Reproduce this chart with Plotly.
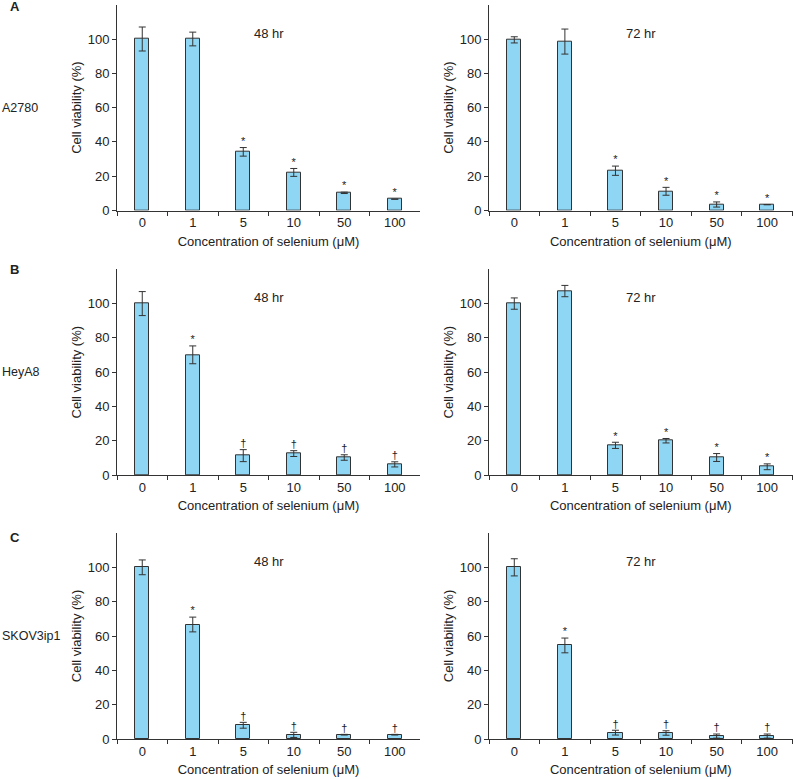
import plotly.graph_objects as go

categories = ["0", "1", "5", "10", "50", "100"]

a2780_48_vals = [100, 100, 34.2, 22.2, 10.3, 6.6]
a2780_48_err = [7.0, 4.0, 2.5, 2.3, 0.4, 0.0]
a2780_48_sig = ["", "", "*", "*", "*", "*"]

a2780_72_vals = [99.5, 98.5, 23.2, 11.2, 3.5, 3.4]
a2780_72_err = [1.8, 7.3, 2.7, 2.3, 1.5, 0.0]
a2780_72_sig = ["", "", "*", "*", "*", "*"]

heya8_48_vals = [100, 70.1, 11.3, 12.5, 10.2, 6.2]
heya8_48_err = [7.0, 5.2, 3.5, 1.7, 1.6, 1.5]
heya8_48_sig = ["", "*", "†", "†", "†", "†"]

heya8_72_vals = [100, 107.3, 17.3, 20.0, 10.2, 4.8]
heya8_72_err = [3.3, 3.3, 1.8, 1.3, 2.3, 1.7]
heya8_72_sig = ["", "", "*", "*", "*", "*"]

skov_48_vals = [100, 66.7, 8.0, 2.4, 2.5, 2.5]
skov_48_err = [4.3, 4.3, 1.7, 1.5, 0.2, 0.2]
skov_48_sig = ["", "*", "†", "†", "†", "†"]

skov_72_vals = [100, 54.5, 3.7, 3.5, 1.7, 1.7]
skov_72_err = [5.0, 4.3, 1.4, 1.3, 1.2, 1.2]
skov_72_sig = ["", "*", "†", "†", "†", "†"]

panel_titles = ["48 hr", "72 hr"]
row_letters = ["A", "B", "C"]
cell_lines = ["A2780", "HeyA8", "SKOV3ip1"]
x_title = "Concentration of selenium (μM)"
y_title = "Cell viability (%)"

panels = [
    (a2780_48_vals, a2780_48_err, a2780_48_sig),
    (a2780_72_vals, a2780_72_err, a2780_72_sig),
    (heya8_48_vals, heya8_48_err, heya8_48_sig),
    (heya8_72_vals, heya8_72_err, heya8_72_sig),
    (skov_48_vals, skov_48_err, skov_48_sig),
    (skov_72_vals, skov_72_err, skov_72_sig),
]

W, H = 793, 779
FONT = "Liberation Sans, Arial, sans-serif"
BAR = "#8fd6f4"
LINE = "#333333"
TXT = "#222222"

# pixel geometry
x_dom_px = [(117, 420), (489, 792.5)]
y_dom_px = [(4.7, 210.5), (269.3, 475), (533, 739)]

fig = go.Figure()
layout = {}
annotations = []

for i, (vals, errs, sig) in enumerate(panels):
    r, c = divmod(i, 2)
    n = i + 1
    xa = "x" if n == 1 else f"x{n}"
    ya = "y" if n == 1 else f"y{n}"
    fig.add_trace(go.Bar(
        x=categories, y=vals, xaxis=xa, yaxis=ya, width=0.28,
        marker=dict(color=BAR, line=dict(color=LINE, width=1)),
        error_y=dict(type="data", array=errs, visible=True, color=LINE, thickness=1, width=3.5),
        showlegend=False, hoverinfo="skip",
    ))
    tops = [v + e for v, e in zip(vals, errs)]
    fig.add_trace(go.Scatter(
        x=categories, y=tops, xaxis=xa, yaxis=ya, mode="text", text=sig,
        textposition="top center", textfont=dict(family=FONT, size=11, color=TXT),
        showlegend=False, hoverinfo="skip", cliponaxis=False,
    ))
    x0, x1 = x_dom_px[c]
    y0, y1 = y_dom_px[r]
    xkey = "xaxis" if n == 1 else f"xaxis{n}"
    ykey = "yaxis" if n == 1 else f"yaxis{n}"
    layout[xkey] = dict(
        domain=[x0 / W, x1 / W], anchor=ya, type="category", range=[-0.5, 5.5],
        showline=True, linecolor=LINE, linewidth=1, ticks="outside", tickson="boundaries",
        ticklen=4, tickcolor=LINE, showgrid=False, zeroline=False, automargin=False,
        tickfont=dict(family=FONT, size=13, color=TXT),
        title=dict(text=x_title, font=dict(family=FONT, size=13, color=TXT), standoff=7),
    )
    layout[ykey] = dict(
        domain=[1 - y1 / H, 1 - y0 / H], anchor=xa, range=[0, 120],
        tickvals=[0, 20, 40, 60, 80, 100],
        showline=True, linecolor=LINE, linewidth=1, ticks="outside", ticklen=4,
        tickcolor=LINE, showgrid=False, zeroline=False, automargin=False,
        tickfont=dict(family=FONT, size=13, color=TXT),
        title=dict(text=y_title, font=dict(family=FONT, size=13, color=TXT), standoff=3),
    )
    annotations.append(dict(
        text=panel_titles[c], xref=f"{xa} domain", yref=ya, x=0.5, y=103.3,
        showarrow=False, font=dict(family=FONT, size=13, color=TXT),
        xanchor="center", yanchor="middle",
    ))

label_y = [108, 371.7, 636]
letter_y = [7, 270, 537]
for r in range(3):
    annotations.append(dict(
        text=f"<b>{row_letters[r]}</b>", xref="paper", yref="paper", x=8 / W,
        y=1 - letter_y[r] / H, xanchor="left", yanchor="middle", showarrow=False,
        font=dict(family=FONT, size=13, color=TXT),
    ))
    annotations.append(dict(
        text=cell_lines[r], xref="paper", yref="paper", x=0,
        y=1 - label_y[r] / H, xanchor="left", yanchor="middle", showarrow=False,
        font=dict(family=FONT, size=12.5, color=TXT),
    ))

fig.update_layout(
    width=W, height=H, margin=dict(l=0, r=0, t=0, b=0, autoexpand=False),
    paper_bgcolor="white", plot_bgcolor="white",
    annotations=annotations, bargap=0, **layout,
)

fig.write_html(
    "out.html",
    config={"displayModeBar": False},
    post_script="document.body.style.margin='0';document.body.style.overflow='hidden';",
)
